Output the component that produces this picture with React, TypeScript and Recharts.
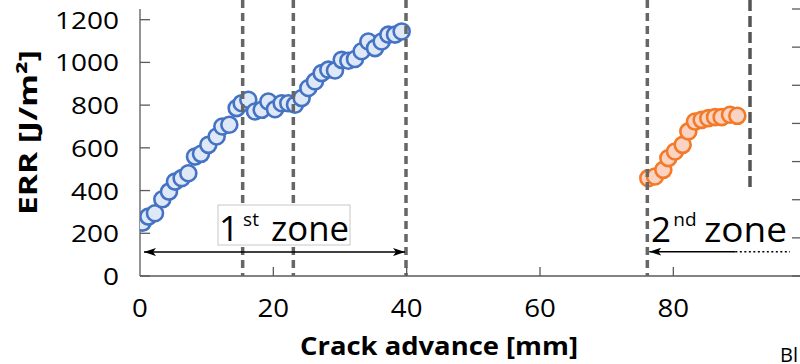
import React from 'react';
import { ScatterChart, Scatter, XAxis, YAxis, ReferenceLine } from 'recharts';

// ---- data ----
const zone1CrackAdvance = [0.4, 1.25, 2.25, 3.35, 4.35, 5.25, 6.25, 7.25, 8.25, 9.15, 10.25, 11.5, 12.35, 13.4, 14.5, 15.25, 16.25, 17.25, 18.25, 19.25, 20.25, 21.25, 22.25, 23.25, 24.25, 25.25, 26.25, 27.25, 28.25, 29.25, 30.25, 31.25, 32.25, 33.25, 34.25, 35.25, 36.25, 37.25, 38.25, 39.25];
const zone1ERR = [250, 278, 294, 359, 395, 442, 458, 481, 559, 572, 614, 653, 700, 708, 786, 809, 825, 770, 778, 817, 781, 809, 809, 802, 833, 880, 911, 950, 966, 962, 1012, 1008, 1016, 1052, 1098, 1067, 1098, 1130, 1130, 1145];
const zone2CrackAdvance = [76.25, 77.25, 78.5, 79.25, 80.25, 81.4, 82.25, 83.25, 84.25, 85.25, 86.25, 87.25, 88.5, 89.6];
const zone2ERR = [458, 466, 497, 552, 583, 614, 677, 723, 731, 739, 744, 744, 755, 750];
const xTicks = [0, 20, 40, 60, 80];
const yTicks = [0, 200, 400, 600, 800, 1000, 1200];
const rightTicks = [0, 1, 2, 3, 4, 5, 6, 7];
const zoneBoundaries = [15.4, 23.0, 39.9, 76.1];
const zone2End = 91.5;
const zone2EndFromERR = 403;

const zone1 = zone1CrackAdvance.map((x, i) => ({ x, y: zone1ERR[i] }));
const zone2 = zone2CrackAdvance.map((x, i) => ({ x, y: zone2ERR[i] }));

const FONT = '"Open Sans", "Noto Sans", sans-serif';
const AX = '#5a5a5a';

const LeftTick = (p: any) => {
  const s = String(p.payload.value);
  const w = 16 * s.length;
  return (
    <g>
      <line x1={p.x} x2={p.x + 10} y1={p.y} y2={p.y} stroke={AX} strokeWidth={1.3} />
      <text x={p.x - 21 - w} y={p.y + 9} fontSize={24} fontFamily={FONT} fill="#000" textLength={w} lengthAdjust="spacingAndGlyphs">{s}</text>
    </g>
  );
};

const BottomTick = (p: any) => {
  const s = String(p.payload.value);
  const w = 15.8 * s.length;
  return (
    <g>
      {p.payload.value !== 0 && <line x1={p.x} x2={p.x} y1={p.y - 9} y2={p.y} stroke={AX} strokeWidth={1.3} />}
      <text x={p.x - w / 2} y={p.y + 41} fontSize={25} fontFamily={FONT} fill="#000" textLength={w} lengthAdjust="spacingAndGlyphs">{s}</text>
    </g>
  );
};

const TopTick = (p: any) => (
  p.payload.value === 0 ? <g /> :
  <line x1={p.x} x2={p.x} y1={p.y} y2={p.y + 9} stroke={AX} strokeWidth={1.3} />
);

const RightTick = (p: any) => (
  <line x1={p.x - 9} x2={p.x} y1={p.y} y2={p.y} stroke={AX} strokeWidth={1.3} />
);

const DashShape = (p: any) => (
  <line x1={p.x1} x2={p.x2} y1={Math.min(p.y1, p.y2) - 9} y2={Math.max(p.y1, p.y2)} stroke="#666" strokeWidth={3.5} strokeDasharray="8 5" />
);
const DashShapeDark = (p: any) => (
  <line x1={p.x1} x2={p.x2} y1={Math.min(p.y1, p.y2) - 9} y2={Math.max(p.y1, p.y2)} stroke="#555" strokeWidth={3.5} strokeDasharray="11 5" />
);

const BlueDot = (p: any) => <circle cx={p.cx} cy={p.cy} r={8} fill="#dfe8f6" stroke="#4472c4" strokeWidth={2.6} />;
const OrangeDot = (p: any) => <circle cx={p.cx} cy={p.cy} r={8} fill="#fbd3c2" stroke="#f47a28" strokeWidth={2.6} />;

const ArrowBoth = (p: any) => (
  <line x1={p.x1 + 2} x2={p.x2 - 1} y1={p.y1} y2={p.y2} stroke="#000" strokeWidth={1.5} markerStart="url(#ahStart)" markerEnd="url(#ahEnd)" />
);
const ArrowLeft = (p: any) => (
  <line x1={Math.min(p.x1, p.x2) + 2} x2={Math.max(p.x1, p.x2)} y1={p.y1} y2={p.y2} stroke="#000" strokeWidth={1.5} markerStart="url(#ahStart)" />
);
const DottedLine = (p: any) => (
  <line x1={p.x1} x2={p.x2} y1={p.y1} y2={p.y2} stroke="#000" strokeWidth={1.5} strokeDasharray="2 2.5" />
);

export default function App() {
  return (
    <div style={{ position: 'absolute', left: 0, top: 0, width: 800, height: 364, overflow: 'hidden', background: '#fff' }}>
      <svg width={0} height={0} style={{ position: 'absolute' }}>
        <defs>
          <marker id="ahEnd" viewBox="0 0 12 8" refX="12" refY="4" markerWidth="12" markerHeight="8" markerUnits="userSpaceOnUse" orient="auto">
            <path d="M0,0 L12,4 L0,8 L3,4 Z" fill="#000" />
          </marker>
          <marker id="ahStart" viewBox="0 0 12 8" refX="0" refY="4" markerWidth="12" markerHeight="8" markerUnits="userSpaceOnUse" orient="auto">
            <path d="M12,0 L0,4 L12,8 L9,4 Z" fill="#000" />
          </marker>
        </defs>
      </svg>
      <ScatterChart width={820} height={364} margin={{ top: 9, right: 0, bottom: 0, left: 0 }}>
        <XAxis type="number" dataKey="x" domain={[0, 99.15]} ticks={xTicks} allowDataOverflow
          height={88} tickSize={0} tickMargin={0} tickLine={false} axisLine={{ stroke: AX, strokeWidth: 1.3 }} tick={BottomTick} interval={0} />
        <XAxis xAxisId="top" orientation="top" type="number" dataKey="x" domain={[0, 99.15]} ticks={xTicks} allowDataOverflow
          height={0} tickSize={0} tickMargin={0} tickLine={false} axisLine={{ stroke: '#777', strokeWidth: 1.3 }} tick={TopTick} interval={0} />
        <YAxis type="number" dataKey="y" domain={[0, 1250]} ticks={yTicks} allowDataOverflow
          width={140} tickSize={0} tickMargin={0} tickLine={false} axisLine={{ stroke: AX, strokeWidth: 1.3 }} tick={LeftTick} interval={0} />
        <YAxis yAxisId="right" orientation="right" type="number" domain={[0, 7]} ticks={rightTicks} allowDataOverflow
          width={19} tickSize={0} tickMargin={0} tickLine={false} axisLine={{ stroke: AX, strokeWidth: 1.3 }} tick={RightTick} interval={0} />
        <Scatter data={zone1} isAnimationActive={false} shape={BlueDot} />
        <Scatter data={zone2} isAnimationActive={false} shape={OrangeDot} />
        {zoneBoundaries.map((b) => (
          <ReferenceLine key={b} x={b} shape={DashShape} zIndex={700} />
        ))}
        <ReferenceLine segment={[{ x: zone2End, y: zone2EndFromERR }, { x: zone2End, y: 1250 }]} shape={DashShapeDark} zIndex={700} />
        <ReferenceLine segment={[{ x: 0.3, y: 112 }, { x: 39.9, y: 112 }]} shape={ArrowBoth} zIndex={700} />
        <ReferenceLine segment={[{ x: 76.1, y: 114 }, { x: 89.3, y: 114 }]} shape={ArrowLeft} zIndex={700} />
        <ReferenceLine segment={[{ x: 89.3, y: 114 }, { x: 97.5, y: 114 }]} shape={DottedLine} zIndex={700} />
      </ScatterChart>
      <svg width={800} height={364} style={{ position: 'absolute', left: 0, top: 0, pointerEvents: 'none' }}>
        <rect x={218} y={205} width={132} height={40} fill="#fff" stroke="#c8c8c8" strokeWidth={1} />
        <text x={229} y={241} fontSize={35} fontFamily={FONT} textAnchor="middle" fill="#000">1</text>
        <text x={251} y={226} fontSize={19} fontFamily={FONT} textAnchor="middle" fill="#000">st</text>
        <text x={271} y={241} fontSize={34} fontFamily={FONT} fill="#000" textLength={78} lengthAdjust="spacingAndGlyphs">zone</text>
        <text x={661} y={241.7} fontSize={35} fontFamily={FONT} textAnchor="middle" fill="#000">2</text>
        <text x={685} y={225.5} fontSize={19} fontFamily={FONT} textAnchor="middle" fill="#000">nd</text>
        <text x={704} y={241.7} fontSize={34} fontFamily={FONT} fill="#000" textLength={83} lengthAdjust="spacingAndGlyphs">zone</text>
        <text x={300} y={355} fontSize={25} fontWeight="bold" fontFamily={FONT} fill="#000" textLength={278} lengthAdjust="spacingAndGlyphs">Crack advance [mm]</text>
        <text transform="translate(37,215) rotate(-90)" x={0} y={0} fontSize={25} fontWeight="bold" fontFamily={FONT} fill="#000" textLength={165} lengthAdjust="spacingAndGlyphs">ERR [J/m²]</text>
        <text x={780} y={362} fontSize={20} fontFamily={FONT} fill="#000">Bl</text>
      </svg>
    </div>
  );
}
